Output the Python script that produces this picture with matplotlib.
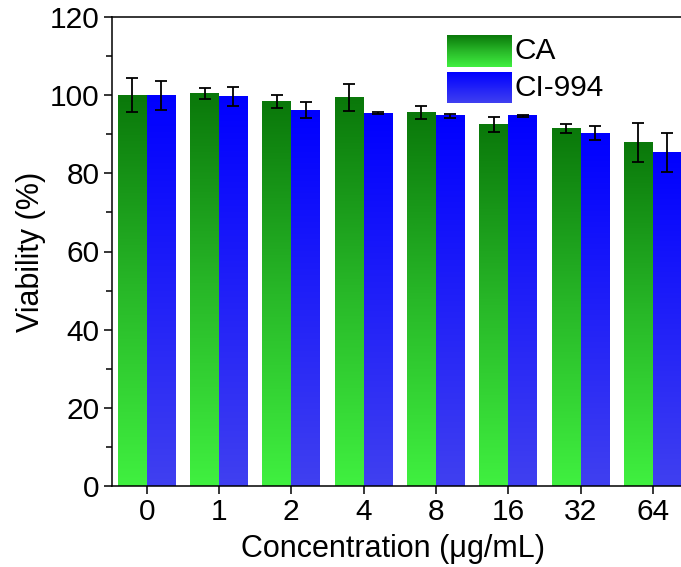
import matplotlib.pyplot as plt
import numpy as np
from matplotlib.colors import LinearSegmentedColormap

plt.rcParams['font.family'] = ['Liberation Sans', 'DejaVu Sans']

concentrations = ['0', '1', '2', '4', '8', '16', '32', '64']
ca_mean = [100.0, 100.4, 98.3, 99.4, 95.6, 92.5, 91.5, 87.8]
ca_err = [4.3, 1.5, 1.7, 3.5, 1.7, 1.9, 1.2, 5.0]
ci_mean = [100.0, 99.6, 96.2, 95.4, 94.7, 94.7, 90.3, 85.3]
ci_err = [3.7, 2.4, 2.1, 0.3, 0.6, 0.2, 1.8, 5.0]
series_names = ['CA', 'CI-994']

green_map = LinearSegmentedColormap.from_list('g', ['#40f040', '#28b828', '#0a780a'])
blue_map = LinearSegmentedColormap.from_list('b', ['#4040f0', '#2020f8', '#0000ff'])
grad = np.linspace(0, 1, 256).reshape(-1, 1)

fig = plt.figure(figsize=(6.81, 5.67), dpi=100)
ax = fig.add_axes([112 / 681, 81 / 567, 578.4 / 681, 469 / 567])

x = np.arange(len(concentrations))
w = 0.4


def gradient_bars(xs, heights, cmap):
    for xi, h in zip(xs, heights):
        ax.imshow(grad, cmap=cmap, origin='lower', aspect='auto',
                  extent=(xi, xi + w, 0, h), zorder=2, interpolation='bicubic')


gradient_bars(x - w, ca_mean, green_map)
gradient_bars(x, ci_mean, blue_map)

ax.errorbar(x - w / 2, ca_mean, yerr=ca_err, fmt='none', ecolor='black',
            elinewidth=1.3, capsize=4, capthick=1.3, zorder=3)
ax.errorbar(x + w / 2, ci_mean, yerr=ci_err, fmt='none', ecolor='black',
            elinewidth=1.3, capsize=4, capthick=1.3, zorder=3)

ax.set_xlim(-0.48, 7.52)
ax.set_ylim(0, 120)
ax.set_xticks(x)
ax.set_xticklabels(concentrations)
ax.set_yticks(np.arange(0, 121, 20))
ax.set_yticks(np.arange(0, 121, 10), minor=True)
ax.tick_params(axis='both', which='major', direction='out', length=6, width=1.1,
               labelsize=21.5, pad=3)
ax.tick_params(axis='y', which='minor', direction='out', length=4, width=1.1)
for sp in ax.spines.values():
    sp.set_linewidth(1.1)

ax.set_ylabel('Viability (%)', fontsize=22)
ax.set_xlabel('Concentration (μg/mL)', fontsize=22)
ax.xaxis.set_label_coords(0.486, -0.102)
ax.yaxis.set_label_coords(-0.114, 0.5)

# legend with gradient swatches, drawn in axes coordinates
px_x = lambda p: (p - 112) / 578.4
px_y = lambda p: (486 - p) / 469
legend_rows = [(35, 67, green_map), (72, 103, blue_map)]
for (top, bot, cmap), name in zip(legend_rows, series_names):
    ax.imshow(grad, cmap=cmap, origin='lower', aspect='auto',
              extent=(px_x(447), px_x(512), px_y(bot), px_y(top)),
              transform=ax.transAxes, zorder=4, interpolation='bicubic')
    ax.text(px_x(514), px_y((top + bot) / 2), name, transform=ax.transAxes,
            fontsize=21.5, va='center', ha='left', zorder=4)

ax.set_xlim(-0.48, 7.52)
ax.set_ylim(0, 120)

fig.savefig('out.png', dpi=100)
